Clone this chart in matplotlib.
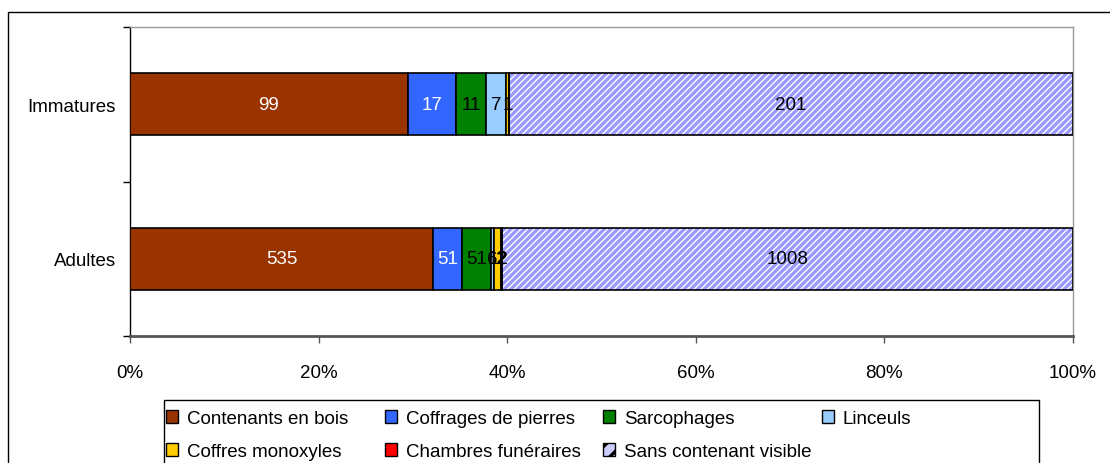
import matplotlib
matplotlib.use("Agg")
import matplotlib.pyplot as plt
from matplotlib.patches import Rectangle, Patch
from matplotlib.ticker import PercentFormatter

plt.rcParams['font.family'] = ['Liberation Sans', 'DejaVu Sans']
plt.rcParams['hatch.linewidth'] = 2.4

categories = ["Adultes", "Immatures"]
series_names = ["Contenants en bois", "Coffrages de pierres", "Sarcophages", "Linceuls",
                "Coffres monoxyles", "Chambres funéraires", "Sans contenant visible"]
values = {
    "Contenants en bois":     [535, 99],
    "Coffrages de pierres":   [51, 17],
    "Sarcophages":            [51, 11],
    "Linceuls":               [6, 7],
    "Coffres monoxyles":      [12, 1],
    "Chambres funéraires":    [2, 0],
    "Sans contenant visible": [1008, 201],
}
colors = ["#993300", "#3366FF", "#008000", "#99CCFF", "#FFCC00", "#FF0000", "#FFFFFF"]
label_colors = ["white", "white", "black", "black", "black", "black", "black"]
hatch_color = "#9999FF"
FS = 13.5

W, H = 1110, 464
fig = plt.figure(figsize=(W / 100, H / 100), dpi=100)
ax = fig.add_axes([130 / W, 1 - 337 / H, (1073 - 130) / W, (337 - 28) / H])

totals = [sum(values[s][i] for s in series_names) for i in range(len(categories))]
ypos = list(range(len(categories)))
left = [0.0] * len(categories)
handles = []
for k, s in enumerate(series_names):
    frac = [v / t for v, t in zip(values[s], totals)]
    if s == "Sans contenant visible":
        ax.barh(ypos, frac, left=left, height=0.4, color="white",
                edgecolor=hatch_color, hatch="/////", linewidth=0, zorder=2)
        ax.barh(ypos, frac, left=left, height=0.4, fill=False,
                edgecolor="black", linewidth=1.2, zorder=3)
        handles.append(Patch(facecolor="#CCCCFF", edgecolor="black", hatch="//", linewidth=1))
    else:
        ax.barh(ypos, frac, left=left, height=0.4, color=colors[k],
                edgecolor="black", linewidth=1.2, zorder=3)
        handles.append(Patch(facecolor=colors[k], edgecolor="black", linewidth=1))
    for i, (f, v) in enumerate(zip(frac, values[s])):
        if v > 0:
            ax.text(left[i] + f / 2, ypos[i], str(v), ha="center", va="center",
                    color=label_colors[k], fontsize=FS, zorder=5)
    left = [l + f for l, f in zip(left, frac)]

ax.set_xlim(0, 1)
ax.set_ylim(-0.5, 1.5)
ax.set_xticks([0, 0.2, 0.4, 0.6, 0.8, 1.0])
ax.xaxis.set_major_formatter(PercentFormatter(1.0, decimals=0))
ax.set_yticks(ypos)
ax.set_yticklabels(categories)
ax.set_yticks([-0.5, 0.5, 1.5], minor=True)
ax.tick_params(axis="y", which="major", length=0, pad=10, labelsize=FS)
ax.tick_params(axis="y", which="minor", length=5, width=1, color="black")
ax.tick_params(axis="x", length=5, width=1, color="#555555", labelsize=FS, pad=15)
for side in ["top", "right"]:
    ax.spines[side].set_color("#999999")
    ax.spines[side].set_linewidth(1)
ax.spines["left"].set_color("black")
ax.spines["left"].set_linewidth(1)
ax.spines["bottom"].set_color("#555555")
ax.spines["bottom"].set_linewidth(2)

# outer chart border (only left/top visible)
fig.patches.append(Rectangle((8 / W, -0.1), 1.2, 1 - 13 / H + 0.1, transform=fig.transFigure,
                             fill=False, edgecolor="black", linewidth=1, zorder=0))

# legend: equal-width columns (Excel style), framed box
fig.patches.append(Rectangle((164 / W, -0.1), (1039 - 164) / W, 1 - 401 / H + 0.1,
                             transform=fig.transFigure, fill=False, edgecolor="black",
                             linewidth=1, zorder=1))
columns = [[0, 4], [1, 5], [2, 6], [3]]
col_x = [166, 385, 603, 822]
for cx, idx in zip(col_x, columns):
    fig.legend([handles[i] for i in idx], [series_names[i] for i in idx],
               loc="upper left", bbox_to_anchor=(cx / W, 1 - 411 / H),
               borderaxespad=0, frameon=False, fontsize=FS,
               handlelength=0.65, handleheight=0.65, handletextpad=0.45,
               borderpad=0, labelspacing=0.85)

fig.savefig("out.png", dpi=100)
